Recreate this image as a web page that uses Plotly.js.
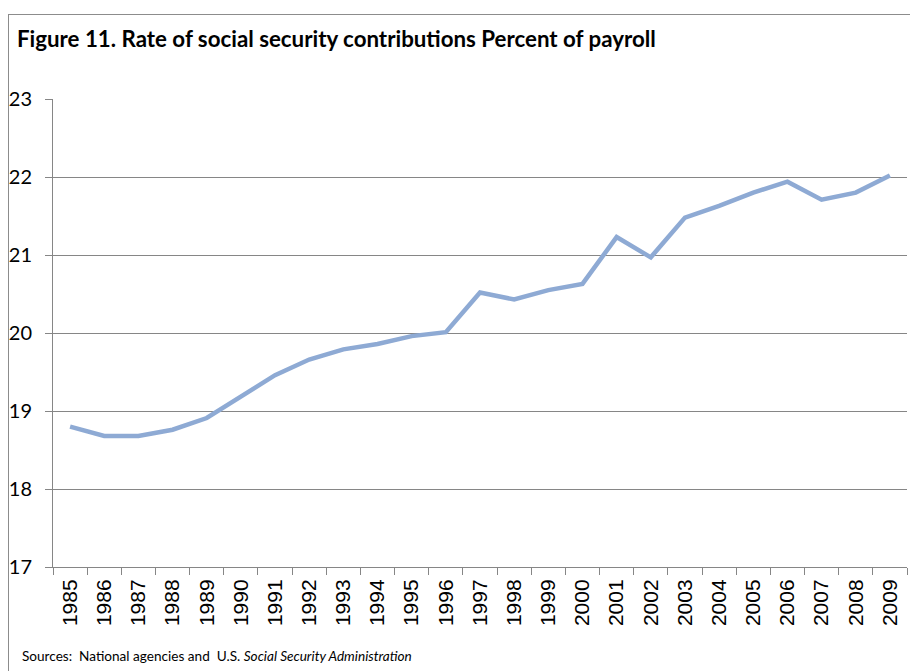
<!DOCTYPE html>
<html>
<head>
<meta charset="utf-8">
<script src="https://cdn.plot.ly/plotly-3.0.1.min.js"></script>
<style>
  html, body { margin: 0; padding: 0; background: #fff; }
  #frame { position: absolute; left: 8px; top: 14px; width: 960px; height: 700px;
           border-left: 1px solid #8c8c8c; border-top: 1px solid #8c8c8c; pointer-events: none; z-index: 5; }
  #chart { position: absolute; left: 0; top: 0; width: 910px; height: 671px; }
</style>
</head>
<body>
<div id="chart"></div>
<div id="frame"></div>
<script>
const years = ["1985","1986","1987","1988","1989","1990","1991","1992","1993","1994","1995","1996",
               "1997","1998","1999","2000","2001","2002","2003","2004","2005","2006","2007","2008","2009"];
const rate = [18.80, 18.68, 18.68, 18.76, 18.91, 19.18, 19.46, 19.66, 19.79, 19.86, 19.96, 20.01,
              20.52, 20.43, 20.55, 20.63, 21.23, 20.97, 21.48, 21.63, 21.80, 21.94, 21.71, 21.80, 22.02];
const yTicks = [17, 18, 19, 20, 21, 22, 23];

const W = 910, H = 671;
const M = {l: 53, r: 3, t: 99, b: 104};
const pw = W - M.l - M.r, ph = H - M.t - M.b;
const px = x => (x - M.l) / pw;
const py = y => (H - M.b - y) / ph;

const trace = {
  type: 'scatter', mode: 'lines', x: years, y: rate,
  line: {color: '#8eaad4', width: 4.5}, hoverinfo: 'skip'
};

const layout = {
  width: W, height: H,
  margin: M,
  paper_bgcolor: '#ffffff', plot_bgcolor: '#ffffff',
  showlegend: false,
  title: {
    text: '<b>Figure 11. Rate of social security contributions Percent of payroll</b>',
    font: {family: 'Lato, "Open Sans", sans-serif', size: 22.3, color: '#000'},
    xref: 'container', yref: 'container', x: 17 / W, xanchor: 'left',
    y: 1 - 39 / H, yanchor: 'middle'
  },
  xaxis: {
    type: 'category', tickmode: 'array', tickvals: years, ticktext: years,
    tickson: 'boundaries', ticks: 'outside', ticklen: 7, tickcolor: '#868686',
    showline: true, linecolor: '#868686', linewidth: 1, showgrid: false, zeroline: false,
    tickangle: -90, tickfont: {family: '"Liberation Sans", Arial, sans-serif', size: 21, color: '#000'},
    ticklabelstandoff: 3,
    range: [-0.5, years.length - 0.5], fixedrange: true
  },
  yaxis: {
    range: [17, 23], tickmode: 'array', tickvals: yTicks, ticktext: yTicks.map(String),
    ticks: 'outside', ticklen: 7, tickcolor: '#868686', ticklabelstandoff: 9,
    showline: true, linecolor: '#868686', linewidth: 1,
    showgrid: true, gridcolor: '#868686', gridwidth: 1, zeroline: false,
    tickfont: {family: 'Lato, "Open Sans", sans-serif', size: 20, color: '#000'},
    fixedrange: true
  },
  annotations: [{
    xref: 'paper', yref: 'paper', x: px(20), y: py(656), xanchor: 'left', yanchor: 'middle',
    showarrow: false, align: 'left',
    text: 'Sources:  National agencies and  U.S. <i>Social Security Administration</i>',
    font: {family: 'Lato, "Open Sans", sans-serif', size: 13.6, color: '#000'}
  }]
};

Plotly.newPlot('chart', [trace], layout, {displayModeBar: false, staticPlot: true});
</script>
</body>
</html>
